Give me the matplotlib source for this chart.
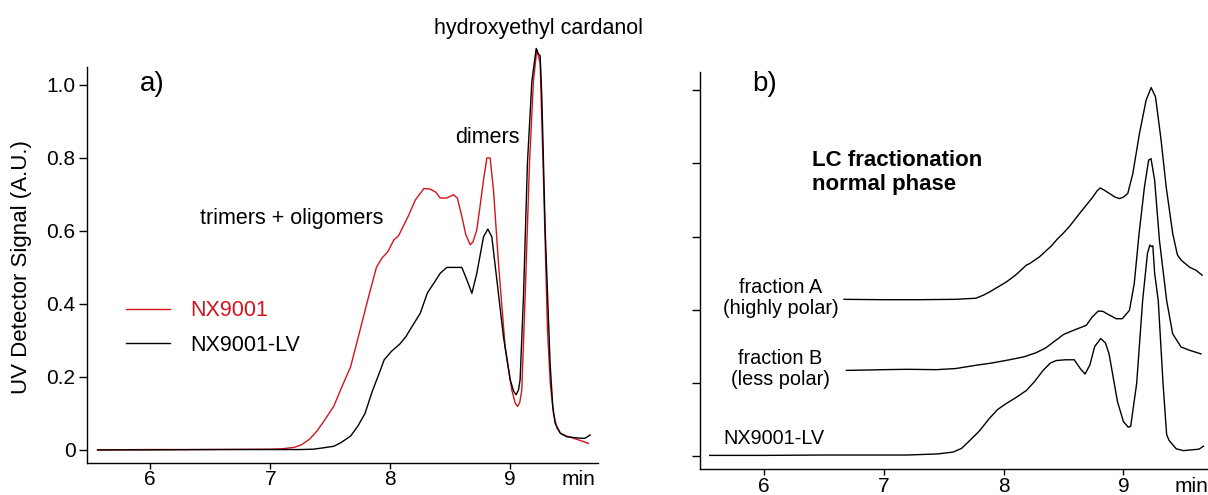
import numpy as np
import matplotlib
matplotlib.use('Agg')
import matplotlib.pyplot as plt

plt.rcParams['font.family'] = ['Liberation Sans', 'DejaVu Sans']

# ---- panel a: NX9001 vs NX9001-LV ----
red_t = [5.56, 6.0, 6.5, 7.0, 7.1, 7.2, 7.26, 7.33, 7.39, 7.45, 7.53, 7.6, 7.67, 7.75, 7.82, 7.885,
         7.93, 7.98, 8.03, 8.07, 8.15, 8.21, 8.28, 8.33, 8.38, 8.417, 8.47, 8.528, 8.56, 8.597, 8.63, 8.667,
         8.69, 8.722, 8.75, 8.778, 8.806, 8.833, 8.861, 8.903, 8.958, 9.014, 9.04, 9.061, 9.08, 9.097, 9.125, 9.161,
         9.194, 9.222, 9.25, 9.278, 9.311, 9.335, 9.361, 9.39, 9.417, 9.47, 9.528, 9.6, 9.653]
red_y = [0.0, 0.001, 0.001, 0.002, 0.003, 0.007, 0.014, 0.03, 0.052, 0.08, 0.12, 0.175, 0.228, 0.33, 0.42, 0.50,
         0.525, 0.543, 0.575, 0.587, 0.64, 0.685, 0.716, 0.715, 0.706, 0.69, 0.69, 0.699, 0.69, 0.64, 0.59, 0.562,
         0.57, 0.603, 0.67, 0.74, 0.80, 0.80, 0.712, 0.51, 0.283, 0.164, 0.13, 0.119, 0.13, 0.164, 0.42, 0.785,
         1.01, 1.096, 1.06, 0.74, 0.33, 0.18, 0.10, 0.06, 0.046, 0.038, 0.032, 0.024, 0.018]

blk_t = [5.56, 6.0, 6.5, 7.0, 7.25, 7.36, 7.45, 7.53, 7.59, 7.67, 7.73, 7.79, 7.85, 7.885, 7.92, 7.95,
         8.01, 8.08, 8.13, 8.18, 8.25, 8.31, 8.38, 8.417, 8.472, 8.597, 8.639, 8.681, 8.722, 8.778, 8.814, 8.847,
         8.889, 8.944, 9.0, 9.03, 9.05, 9.07, 9.083, 9.111, 9.144, 9.181, 9.217, 9.236, 9.25, 9.264, 9.292, 9.333,
         9.355, 9.375, 9.42, 9.472, 9.583, 9.625, 9.667]
blk_y = [0.0, 0.0, 0.001, 0.001, 0.001, 0.002, 0.006, 0.01, 0.02, 0.038, 0.065, 0.10, 0.16, 0.19, 0.22, 0.247,
         0.27, 0.29, 0.31, 0.337, 0.374, 0.43, 0.465, 0.484, 0.50, 0.50, 0.466, 0.429, 0.484, 0.584, 0.605, 0.584,
         0.466, 0.31, 0.192, 0.16, 0.151, 0.165, 0.192, 0.42, 0.785, 1.01, 1.10, 1.085, 1.08, 0.968, 0.603, 0.237,
         0.12, 0.073, 0.045, 0.036, 0.032, 0.032, 0.041]

# ---- panel b: LC fractionation traces ----
lv_t = [5.55, 6.0, 6.5, 7.0, 7.2, 7.45, 7.58, 7.65, 7.72, 7.8, 7.88, 7.95, 8.02, 8.1, 8.19, 8.26,
        8.33, 8.39, 8.44, 8.52, 8.59, 8.64, 8.68, 8.72, 8.76, 8.81, 8.85, 8.88, 8.95, 9.0, 9.04, 9.06,
        9.11, 9.16, 9.2, 9.22, 9.235, 9.245, 9.26, 9.29, 9.33, 9.36, 9.38, 9.44, 9.5, 9.63, 9.667]
lv_y = [0.003, 0.003, 0.004, 0.004, 0.004, 0.007, 0.012, 0.022, 0.044, 0.07, 0.103, 0.128, 0.144, 0.16, 0.18, 0.205,
        0.235, 0.255, 0.262, 0.264, 0.264, 0.24, 0.225, 0.25, 0.30, 0.322, 0.31, 0.28, 0.15, 0.095, 0.08, 0.082,
        0.199, 0.426, 0.554, 0.577, 0.573, 0.575, 0.5, 0.426, 0.199, 0.06, 0.044, 0.021, 0.016, 0.02, 0.028]

fb_t = [6.69, 7.0, 7.2, 7.44, 7.6, 7.77, 7.9, 8.05, 8.17, 8.27, 8.35, 8.44, 8.5, 8.58, 8.69, 8.74,
        8.79, 8.83, 8.86, 8.94, 8.99, 9.05, 9.09, 9.13, 9.175, 9.21, 9.23, 9.26, 9.3, 9.36, 9.41, 9.48,
        9.55, 9.647]
fb_y = [0.235, 0.237, 0.238, 0.237, 0.24, 0.249, 0.255, 0.264, 0.272, 0.283, 0.296, 0.318, 0.333, 0.344, 0.358, 0.381,
        0.397, 0.396, 0.39, 0.376, 0.376, 0.399, 0.472, 0.608, 0.736, 0.809, 0.813, 0.754, 0.59, 0.426, 0.335, 0.299,
        0.29, 0.28]

fa_t = [6.67, 7.0, 7.3, 7.6, 7.77, 7.83, 7.883, 7.95, 8.022, 8.1, 8.15, 8.189, 8.22, 8.3, 8.4, 8.45,
        8.494, 8.55, 8.633, 8.7, 8.744, 8.78, 8.806, 8.84, 8.883, 8.93, 8.967, 9.0, 9.036, 9.078, 9.133, 9.189,
        9.231, 9.267, 9.314, 9.356, 9.411, 9.45, 9.481, 9.55, 9.606, 9.656]
fa_y = [0.429, 0.428, 0.428, 0.429, 0.432, 0.44, 0.449, 0.462, 0.476, 0.495, 0.51, 0.522, 0.527, 0.545, 0.575, 0.594,
        0.608, 0.628, 0.663, 0.69, 0.708, 0.725, 0.733, 0.727, 0.718, 0.708, 0.704, 0.708, 0.718, 0.772, 0.881, 0.973,
        1.007, 0.982, 0.863, 0.736, 0.608, 0.55, 0.536, 0.517, 0.508, 0.495]

x_ticks = [6, 7, 8, 9]
y_ticks = [0, 0.2, 0.4, 0.6, 0.8, 1.0]
y_ticklabels = ['0', '0.2', '0.4', '0.6', '0.8', '1.0']

RED = '#d2141e'

fig = plt.figure(figsize=(12.08, 4.95), dpi=100)
ax_a = fig.add_axes([0.0718, 0.0653, 0.423, 0.80])
ax_b = fig.add_axes([0.5795, 0.0519, 0.423, 0.803])


def style_axis(ax):
    for s in ['top', 'right']:
        ax.spines[s].set_visible(False)
    ax.spines['left'].set_linewidth(1.0)
    ax.spines['bottom'].set_linewidth(1.0)
    ax.set_xlim(5.47, 9.73)
    ax.set_ylim(-0.035, 1.05)
    # "min" sits in the tick label row, without a tick mark
    ax.set_xticks(x_ticks + [9.567])
    ax.set_xticklabels([str(t) for t in x_ticks] + ['min'])
    ax.xaxis.get_major_ticks()[-1].tick1line.set_visible(False)
    ax.tick_params(axis='x', direction='out', length=4, width=1.0, labelsize=15, pad=1.5)
    ax.tick_params(axis='y', direction='out', length=6, width=1.0, labelsize=15, pad=2)
    ax.set_yticks(y_ticks)


style_axis(ax_a)
style_axis(ax_b)

# panel a
ax_a.plot(red_t, red_y, color=RED, lw=1.0, label='NX9001', clip_on=False)
ax_a.plot(blk_t, blk_y, color='black', lw=1.0, label='NX9001-LV', clip_on=False)
ax_a.set_yticklabels(y_ticklabels)
ax_a.set_ylabel('UV Detector Signal (A.U.)', fontsize=16, va='center')
ax_a.yaxis.set_label_coords(-0.127, 0.493)
ax_a.text(6.02, 1.003, 'a)', fontsize=20, ha='center', va='center')
ax_a.text(7.18, 0.633, 'trimers + oligomers', fontsize=15.5, ha='center', va='center')
ax_a.text(8.81, 0.856, 'dimers', fontsize=15.5, ha='center', va='center')
ax_a.text(9.235, 1.155, 'hydroxyethyl cardanol', fontsize=15.5, ha='center', va='center', clip_on=False)
ax_a.legend(loc='upper left', bbox_to_anchor=(0.077, 0.41), frameon=False, fontsize=15.5,
            handlelength=2.05, handletextpad=0.95, labelspacing=0.62, borderpad=0, borderaxespad=0,
            labelcolor='linecolor')

# panel b
ax_b.plot(lv_t, lv_y, color='black', lw=1.0)
ax_b.plot(fb_t, fb_y, color='black', lw=1.0)
ax_b.plot(fa_t, fa_y, color='black', lw=1.0)
ax_b.set_yticklabels([])
ax_b.text(6.008, 1.016, 'b)', fontsize=20, ha='center', va='center')
ax_b.text(6.40, 0.836, 'LC fractionation\nnormal phase', fontsize=16, fontweight='bold',
          ha='left', va='top', linespacing=1.15)
ax_b.text(6.14, 0.433, 'fraction A\n(highly polar)', fontsize=14.3, ha='center', va='center', linespacing=1.15)
ax_b.text(6.14, 0.238, 'fraction B\n(less polar)', fontsize=14.3, ha='center', va='center', linespacing=1.15)
ax_b.text(6.083, 0.048, 'NX9001-LV', fontsize=14.3, ha='center', va='center')

fig.savefig('out.png', dpi=100)
